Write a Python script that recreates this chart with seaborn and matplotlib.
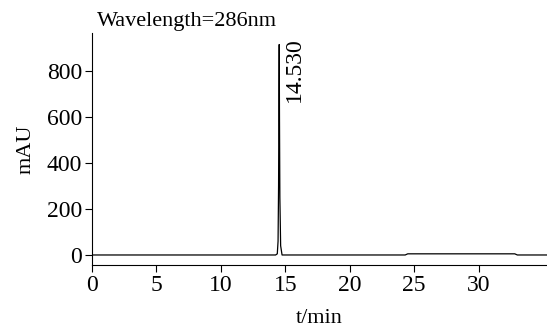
import numpy as np
import pandas as pd
import seaborn as sns
import matplotlib.pyplot as plt

sns.set_style("ticks")
plt.rcParams["font.family"] = ["Liberation Serif", "DejaVu Serif"]
plt.rcParams["text.color"] = "black"
plt.rcParams["axes.labelcolor"] = "black"
plt.rcParams["xtick.color"] = "black"
plt.rcParams["ytick.color"] = "black"
plt.rcParams["axes.edgecolor"] = "black"

# chromatogram trace
time_min = [0, 14.25, 14.38, 14.44, 14.48, 14.51, 14.53, 14.55, 14.58, 14.64, 14.75,
            24.30, 24.50, 32.80, 33.00, 35.30]
mau = [0, 0, 5, 60, 300, 700, 915, 600, 250, 40, 0,
       0, 5, 5, 0, 0]
peak_label = "14.530"
peak_time = 14.53
wavelength = "Wavelength=286nm"

df = pd.DataFrame({"t": time_min, "mAU": mau})

fig = plt.figure(figsize=(5.47, 3.27), dpi=100)
ax = fig.add_axes([0.168, 0.19, 0.832, 0.709])
sns.lineplot(x="t", y="mAU", data=df, ax=ax, color="black", linewidth=0.9, sort=False)

ax.set_xlim(0, 35.3)
ax.set_ylim(-43, 965)
ax.set_xticks([0, 5, 10, 15, 20, 25, 30])
ax.set_yticks([0, 200, 400, 600, 800])
ax.set_xlabel("t/min", fontsize=16, labelpad=10)
ax.set_ylabel("mAU", fontsize=16, labelpad=8)
ax.tick_params(labelsize=17, length=5, width=0.8, direction="out", pad=2)
sns.despine(ax=ax)
for s in ["left", "bottom"]:
    ax.spines[s].set_linewidth(0.8)

ax.text(peak_time + 0.4, 945, peak_label, rotation=90, fontsize=17,
        ha="left", va="top")
fig.text(0.178, 0.935, wavelength, fontsize=16, ha="left", va="center")

fig.savefig("out.png", dpi=100)
